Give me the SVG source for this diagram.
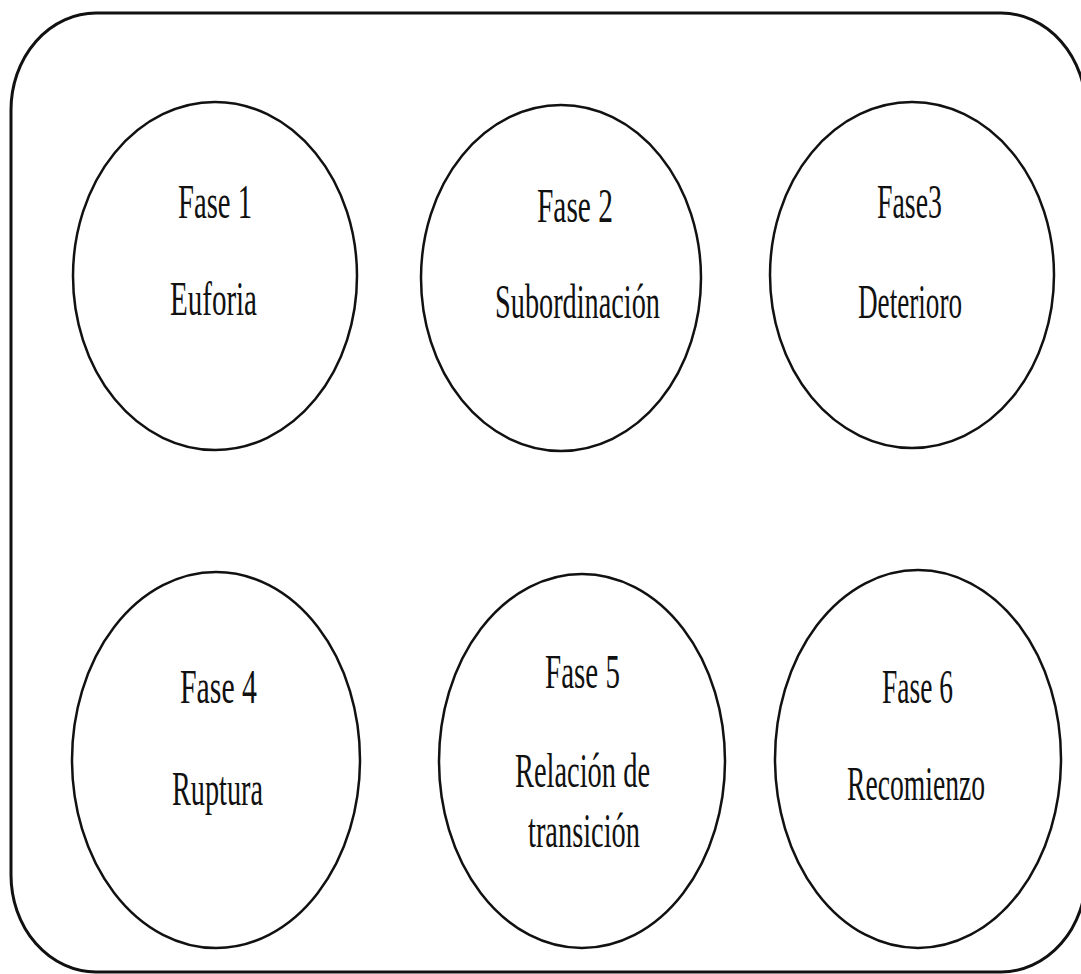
<svg xmlns="http://www.w3.org/2000/svg" width="1081" height="974" viewBox="0 0 1081 974">
<style>
.frame{fill:none;stroke:#111;stroke-width:3}
.node ellipse{fill:#fff;stroke:#111;stroke-width:2.5}
.node text{font-family:"Liberation Serif","Times New Roman",serif;font-size:48px;fill:#111}
</style>
<rect x="0" y="0" width="1081" height="974" fill="#fff"/>
<rect id="frame" class="frame" x="11" y="13" width="1075" height="959" rx="85" ry="97"/>
<g id="connectors"></g>
<g id="fase1" class="node">
<ellipse cx="215" cy="276" rx="142" ry="174"/>
<text x="178" y="218" textLength="74" lengthAdjust="spacingAndGlyphs">Fase 1</text>
<text x="170" y="315" textLength="87" lengthAdjust="spacingAndGlyphs">Euforia</text>
</g>
<g id="fase2" class="node">
<ellipse cx="561" cy="278" rx="140" ry="173"/>
<text x="537" y="222" textLength="76" lengthAdjust="spacingAndGlyphs">Fase 2</text>
<text x="495" y="318" textLength="165" lengthAdjust="spacingAndGlyphs">Subordinación</text>
</g>
<g id="fase3" class="node">
<ellipse cx="912" cy="275" rx="142" ry="173"/>
<text x="877" y="218" textLength="65" lengthAdjust="spacingAndGlyphs">Fase3</text>
<text x="858" y="318" textLength="104" lengthAdjust="spacingAndGlyphs">Deterioro</text>
</g>
<g id="fase4" class="node">
<ellipse cx="216" cy="760" rx="144" ry="188"/>
<text x="180" y="703" textLength="77" lengthAdjust="spacingAndGlyphs">Fase 4</text>
<text x="172" y="805" textLength="91" lengthAdjust="spacingAndGlyphs">Ruptura</text>
</g>
<g id="fase5" class="node">
<ellipse cx="582" cy="761" rx="143" ry="187"/>
<text x="545" y="688" textLength="75" lengthAdjust="spacingAndGlyphs">Fase 5</text>
<text x="515" y="787" textLength="135" lengthAdjust="spacingAndGlyphs">Relación de</text>
<text x="528" y="847" textLength="112" lengthAdjust="spacingAndGlyphs">transición</text>
</g>
<g id="fase6" class="node">
<ellipse cx="918" cy="759" rx="143" ry="189"/>
<text x="882" y="703" textLength="71" lengthAdjust="spacingAndGlyphs">Fase 6</text>
<text x="847" y="800" textLength="138" lengthAdjust="spacingAndGlyphs">Recomienzo</text>
</g>
</svg>
